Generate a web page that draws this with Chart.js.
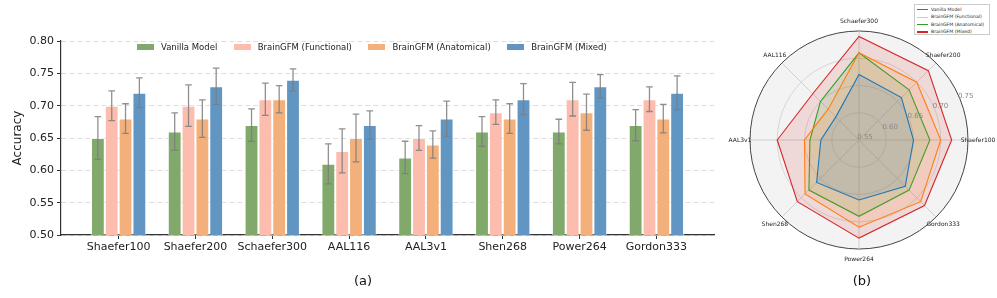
<!DOCTYPE html>
<html>
<head>
<meta charset="utf-8">
<script src="https://cdn.jsdelivr.net/npm/chart.js@4.4.1/dist/chart.umd.min.js"></script>
<style>
  html, body { margin: 0; padding: 0; background: #fff; overflow: hidden; }
  body { width: 997px; height: 298px; position: relative; font-family: "DejaVu Sans", sans-serif; }
  #barWrap { position: absolute; left: 0; top: 0; width: 730px; height: 298px; }
  #radarWrap { position: absolute; left: 700px; top: 0; width: 297px; height: 298px; }
  .panel { position: absolute; top: 273px; font-size: 13px; color: #111; width: 40px; text-align: center; }
  #barLegend { position: absolute; left: 137px; top: 41px; height: 12px; display: flex; align-items: center; white-space: nowrap; }
  #barLegend .item { display: flex; align-items: center; font-size: 8.5px; color: #222; margin-right: 16.5px; }
  #barLegend .patch { width: 17px; height: 6px; margin-right: 7px; }
  #radarLegend {
    position: absolute; left: 914px; top: 4px; width: 76px; height: 31px;
    border: 1px solid #ccc; background: #fff; box-sizing: border-box; padding: 1px 0 0 2px;
  }
  #radarLegend div { height: 7.4px; line-height: 7.4px; font-size: 4.6px; color: #222; white-space: nowrap; }
  #radarLegend span { display: inline-block; width: 11px; height: 1.2px; vertical-align: middle; margin-right: 3px; }
</style>
</head>
<body>
<div id="barWrap"><canvas id="bar"></canvas></div>
<div id="radarWrap"><canvas id="radar"></canvas></div>
<div class="panel" style="left:343px">(a)</div>
<div class="panel" style="left:842px">(b)</div>
<div id="barLegend"></div>
<div id="radarLegend"></div>

<script>
"use strict";

// ---- data ----
const categories = ['Shaefer100', 'Shaefer200', 'Schaefer300', 'AAL116', 'AAL3v1', 'Shen268', 'Power264', 'Gordon333'];
const seriesNames = ['Vanilla Model', 'BrainGFM (Functional)', 'BrainGFM (Anatomical)', 'BrainGFM (Mixed)'];

const vanilla    = [0.65, 0.66, 0.67, 0.61, 0.62, 0.66, 0.66, 0.67];
const functional = [0.70, 0.70, 0.71, 0.63, 0.65, 0.69, 0.71, 0.71];
const anatomical = [0.68, 0.68, 0.71, 0.65, 0.64, 0.68, 0.69, 0.68];
const mixed      = [0.72, 0.73, 0.74, 0.67, 0.68, 0.71, 0.73, 0.72];

const vanillaErr    = [0.033, 0.029, 0.025, 0.031, 0.025, 0.023, 0.019, 0.024];
const functionalErr = [0.023, 0.032, 0.025, 0.034, 0.019, 0.019, 0.026, 0.019];
const anatomicalErr = [0.023, 0.029, 0.021, 0.037, 0.021, 0.023, 0.028, 0.022];
const mixedErr      = [0.023, 0.028, 0.017, 0.022, 0.027, 0.024, 0.018, 0.026];

const yTicks = [0.50, 0.55, 0.60, 0.65, 0.70, 0.75, 0.80];

// radar panel (b)
const radarVanilla    = [0.65, 0.66, 0.67, 0.61, 0.62, 0.66, 0.66, 0.67];
const radarFunctional = [0.70, 0.70, 0.71, 0.63, 0.65, 0.69, 0.71, 0.71];
const radarAnatomical = [0.68, 0.68, 0.71, 0.65, 0.64, 0.68, 0.69, 0.68];
const radarMixed      = [0.72, 0.73, 0.74, 0.67, 0.70, 0.71, 0.73, 0.72];
const radarTicks = [0.55, 0.60, 0.65, 0.70, 0.75];
// clockwise from the right-hand spoke
const radarOrder = [0, 7, 6, 5, 4, 3, 2, 1];

Chart.defaults.font.family = '"DejaVu Sans", sans-serif';
Chart.defaults.color = '#222';

// ---- (a) grouped bars ----
const barColors = ['#80a96b', '#fcbcae', '#f4b07a', '#6196c3'];
const barValues = [vanilla, functional, anatomical, mixed];
const barErrors = [vanillaErr, functionalErr, anatomicalErr, mixedErr];

const errorBars = {
    id: 'errorBars',
    afterDatasetsDraw(chart) {
        const ctx = chart.ctx;
        const y = chart.scales.y;
        ctx.save();
        ctx.strokeStyle = 'rgba(125,125,125,0.85)';
        ctx.lineWidth = 1.3;
        chart.data.datasets.forEach((ds, d) => {
            const meta = chart.getDatasetMeta(d);
            meta.data.forEach((bar, i) => {
                const v = barValues[d][i], e = barErrors[d][i];
                const top = y.getPixelForValue(v + e);
                const bot = y.getPixelForValue(v - e);
                ctx.beginPath();
                ctx.moveTo(bar.x, top); ctx.lineTo(bar.x, bot);
                ctx.moveTo(bar.x - 3.3, top); ctx.lineTo(bar.x + 3.3, top);
                ctx.moveTo(bar.x - 3.3, bot); ctx.lineTo(bar.x + 3.3, bot);
                ctx.stroke();
            });
        });
        ctx.restore();
    }
};

new Chart(document.getElementById('bar'), {
    type: 'bar',
    data: {
        datasets: barValues.map((vals, d) => ({
            label: seriesNames[d],
            data: vals.map((v, i) => ({ x: i, y: v })),
            backgroundColor: barColors[d],
            borderColor: 'rgba(255,255,255,0.55)',
            borderWidth: 1,
            categoryPercentage: 0.72,
            barPercentage: 1.0
        }))
    },
    options: {
        responsive: true,
        maintainAspectRatio: false,
        animation: false,
        layout: { padding: { left: 0, top: 41, right: 16, bottom: 0 } },
        plugins: { legend: { display: false }, tooltip: { enabled: false } },
        scales: {
            x: {
                type: 'linear',
                offset: false,
                min: -0.75,
                max: 7.75,
                afterBuildTicks: (scale) => { scale.ticks = categories.map((c, i) => ({ value: i })); },
                afterFit: (scale) => { scale.height = 63; },
                ticks: {
                    autoSkip: false, maxRotation: 0, padding: 2,
                    font: { size: 11 }, color: '#222',
                    callback: (v) => categories[v]
                },
                grid: { offset: false, drawOnChartArea: false, drawTicks: true, tickLength: 4, tickColor: '#333', color: '#333' },
                border: { color: '#333', width: 1.2 }
            },
            y: {
                min: 0.5,
                max: 0.8,
                afterBuildTicks: (scale) => { scale.ticks = yTicks.map(v => ({ value: v })); },
                afterFit: (scale) => { scale.width = 61; },
                ticks: { font: { size: 11 }, color: '#222', padding: 3, callback: (v) => v.toFixed(2) },
                grid: { color: '#dedede', lineWidth: 1, tickLength: 4, tickColor: '#333', tickBorderDash: [] },
                border: { color: '#333', width: 1.2, dash: [5, 3] },
                title: { display: true, text: 'Accuracy', font: { size: 12 }, color: '#222', padding: { top: 11, bottom: 0 } }
            }
        }
    },
    plugins: [errorBars]
});

// bar legend, inside the axes under the top grid line
const barLegend = document.getElementById('barLegend');
seriesNames.forEach((name, d) => {
    const item = document.createElement('div');
    item.className = 'item';
    const patch = document.createElement('div');
    patch.className = 'patch';
    patch.style.background = barColors[d];
    item.appendChild(patch);
    item.appendChild(document.createTextNode(name));
    barLegend.appendChild(item);
});

// ---- (b) radar ----
const radarColors = ['#1f77b4', '#ff7f0e', '#2ca02c', '#d62728'];
const radarValues = [radarVanilla, radarFunctional, radarAnatomical, radarMixed];

function hexA(hex, a) {
    const n = parseInt(hex.slice(1), 16);
    return `rgba(${(n >> 16) & 255},${(n >> 8) & 255},${n & 255},${a})`;
}

const radarText = {
    id: 'radarText',
    afterDraw(chart) {
        const r = chart.scales.r;
        const ctx = chart.ctx;
        ctx.save();
        ctx.textAlign = 'center';
        ctx.textBaseline = 'middle';
        // spoke labels
        ctx.font = '6px "DejaVu Sans"';
        ctx.fillStyle = '#222';
        chart.data.labels.forEach((lab, i) => {
            const p = r.getPointPosition(i, r.drawingArea + 10);
            ctx.fillText(lab, p.x, p.y);
        });
        // radial tick labels at 22.5 deg
        ctx.font = '7px "DejaVu Sans"';
        ctx.fillStyle = '#888';
        const a = 22.5 * Math.PI / 180;
        radarTicks.forEach(t => {
            const d = r.getDistanceFromCenterForValue(t) + 6.5;
            ctx.fillText(t.toFixed(2), r.xCenter + d * Math.cos(a), r.yCenter - d * Math.sin(a));
        });
        ctx.restore();
    }
};

new Chart(document.getElementById('radar'), {
    type: 'radar',
    data: {
        labels: radarOrder.map(i => categories[i]),
        datasets: radarValues.map((vals, d) => ({
            label: seriesNames[d],
            data: radarOrder.map(i => vals[i]),
            borderColor: radarColors[d],
            backgroundColor: hexA(radarColors[d], 0.13),
            borderWidth: 1.1,
            fill: true,
            pointRadius: 0,
            tension: 0
        }))
    },
    options: {
        responsive: true,
        maintainAspectRatio: false,
        animation: false,
        layout: { padding: { left: 50, top: 31, right: 29, bottom: 49 } },
        plugins: { legend: { display: false }, tooltip: { enabled: false } },
        scales: {
            r: {
                min: 0.55,
                max: 0.75,
                startAngle: 90,
                backgroundColor: '#f3f3f3',
                afterBuildTicks: (scale) => { scale.ticks = radarTicks.map(v => ({ value: v })); },
                ticks: { display: false },
                pointLabels: { display: false },
                angleLines: { color: '#cccccc', lineWidth: 0.9 },
                grid: {
                    circular: true,
                    color: (c) => (c.tick && c.tick.value >= 0.75 ? '#444' : '#d2d2d2'),
                    lineWidth: (c) => (c.tick && c.tick.value >= 0.75 ? 1 : 0.9)
                }
            }
        }
    },
    plugins: [radarText]
});

// radar legend
const legendBox = document.getElementById('radarLegend');
seriesNames.forEach((name, d) => {
    const row = document.createElement('div');
    const sw = document.createElement('span');
    sw.style.background = radarColors[d];
    if (d === 1) sw.style.opacity = '0.5';
    row.appendChild(sw);
    row.appendChild(document.createTextNode(name));
    legendBox.appendChild(row);
});
</script>
</body>
</html>
